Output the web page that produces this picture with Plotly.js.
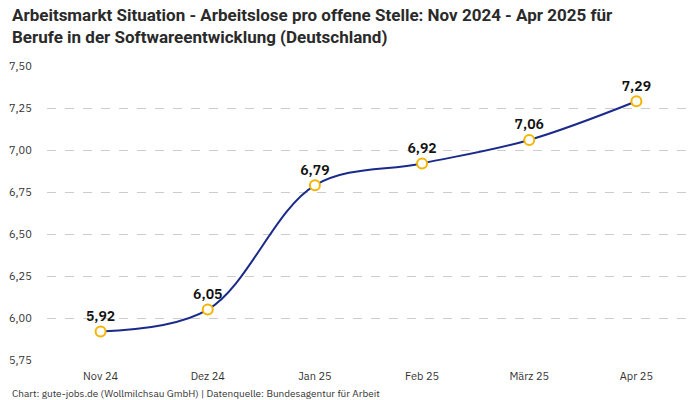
<!DOCTYPE html>
<html><head><meta charset="utf-8">
<script src="https://cdn.plot.ly/plotly-3.0.1.min.js"></script>
<style>body{margin:0;background:#fff}#c{width:700px;height:400px}</style>
</head><body><div id="c"></div>
<script>
const months = ["Nov 24","Dez 24","Jan 25","Feb 25","März 25","Apr 25"];
const values = [5.92,6.05,6.79,6.92,7.06,7.29];
const valueLabels = ["5,92","6,05","6,79","6,92","7,06","7,29"];
const yTicks = [5.75,6.00,6.25,6.50,6.75,7.00,7.25,7.50];

const font = "'IBM Plex Sans', 'Noto Sans', sans-serif";
Plotly.newPlot('c', [{
  x: months, y: values, type: 'scatter', mode: 'lines+markers+text',
  line: {shape: 'spline', smoothing: 1, color: '#1a2a8a', width: 2},
  marker: {symbol: 'circle', size: 10, color: '#ffffff', line: {color: '#f5b400', width: 2}},
  text: valueLabels, textposition: 'top center',
  textfont: {family: font, size: 14, color: '#111', weight: 600},
  cliponaxis: false, hoverinfo: 'skip'
}], {
  width: 700, height: 400,
  separators: ',.',
  margin: {l: 47, r: 10, t: 66, b: 40},
  paper_bgcolor: '#fff', plot_bgcolor: '#fff',
  showlegend: false,
  font: {family: font, size: 11, color: '#333'},
  xaxis: {type: 'category', range: [-0.5, 5.5], showgrid: false, zeroline: false, showline: false,
    ticks: 'outside', ticklen: 6, tickcolor: 'rgba(0,0,0,0)', tickfont: {size: 11, color: '#333'}},
  yaxis: {range: [5.75, 7.5], tickvals: yTicks, tickformat: '.2f', showgrid: true,
    gridcolor: '#cccccc', griddash: 'dash', gridwidth: 1, zeroline: false, showline: false,
    ticks: 'outside', ticklen: 12, tickcolor: 'rgba(0,0,0,0)', tickfont: {size: 11, color: '#333'}},
  annotations: [
   {text: '<b>Arbeitsmarkt Situation - Arbeitslose pro offene Stelle: Nov 2024 - Apr 2025 für<br>Berufe in der Softwareentwicklung (Deutschland)</b>',
    xref: 'paper', yref: 'paper', x: -0.058, xanchor: 'left', y: 1.214, yanchor: 'top', align: 'left',
    showarrow: false, font: {family: "'Liberation Sans Narrow', 'Roboto', sans-serif", size: 17, color: '#2a2a2a'}},
   {text: 'Chart: gute-jobs.de (Wollmilchsau GmbH) | Datenquelle: Bundesagentur für Arbeit',
    xref: 'paper', yref: 'paper', x: -0.058, xanchor: 'left', y: -0.143, yanchor: 'bottom',
    showarrow: false, font: {size: 10, color: '#333'}}]
}, {displayModeBar: false, staticPlot: true});
</script></body></html>
